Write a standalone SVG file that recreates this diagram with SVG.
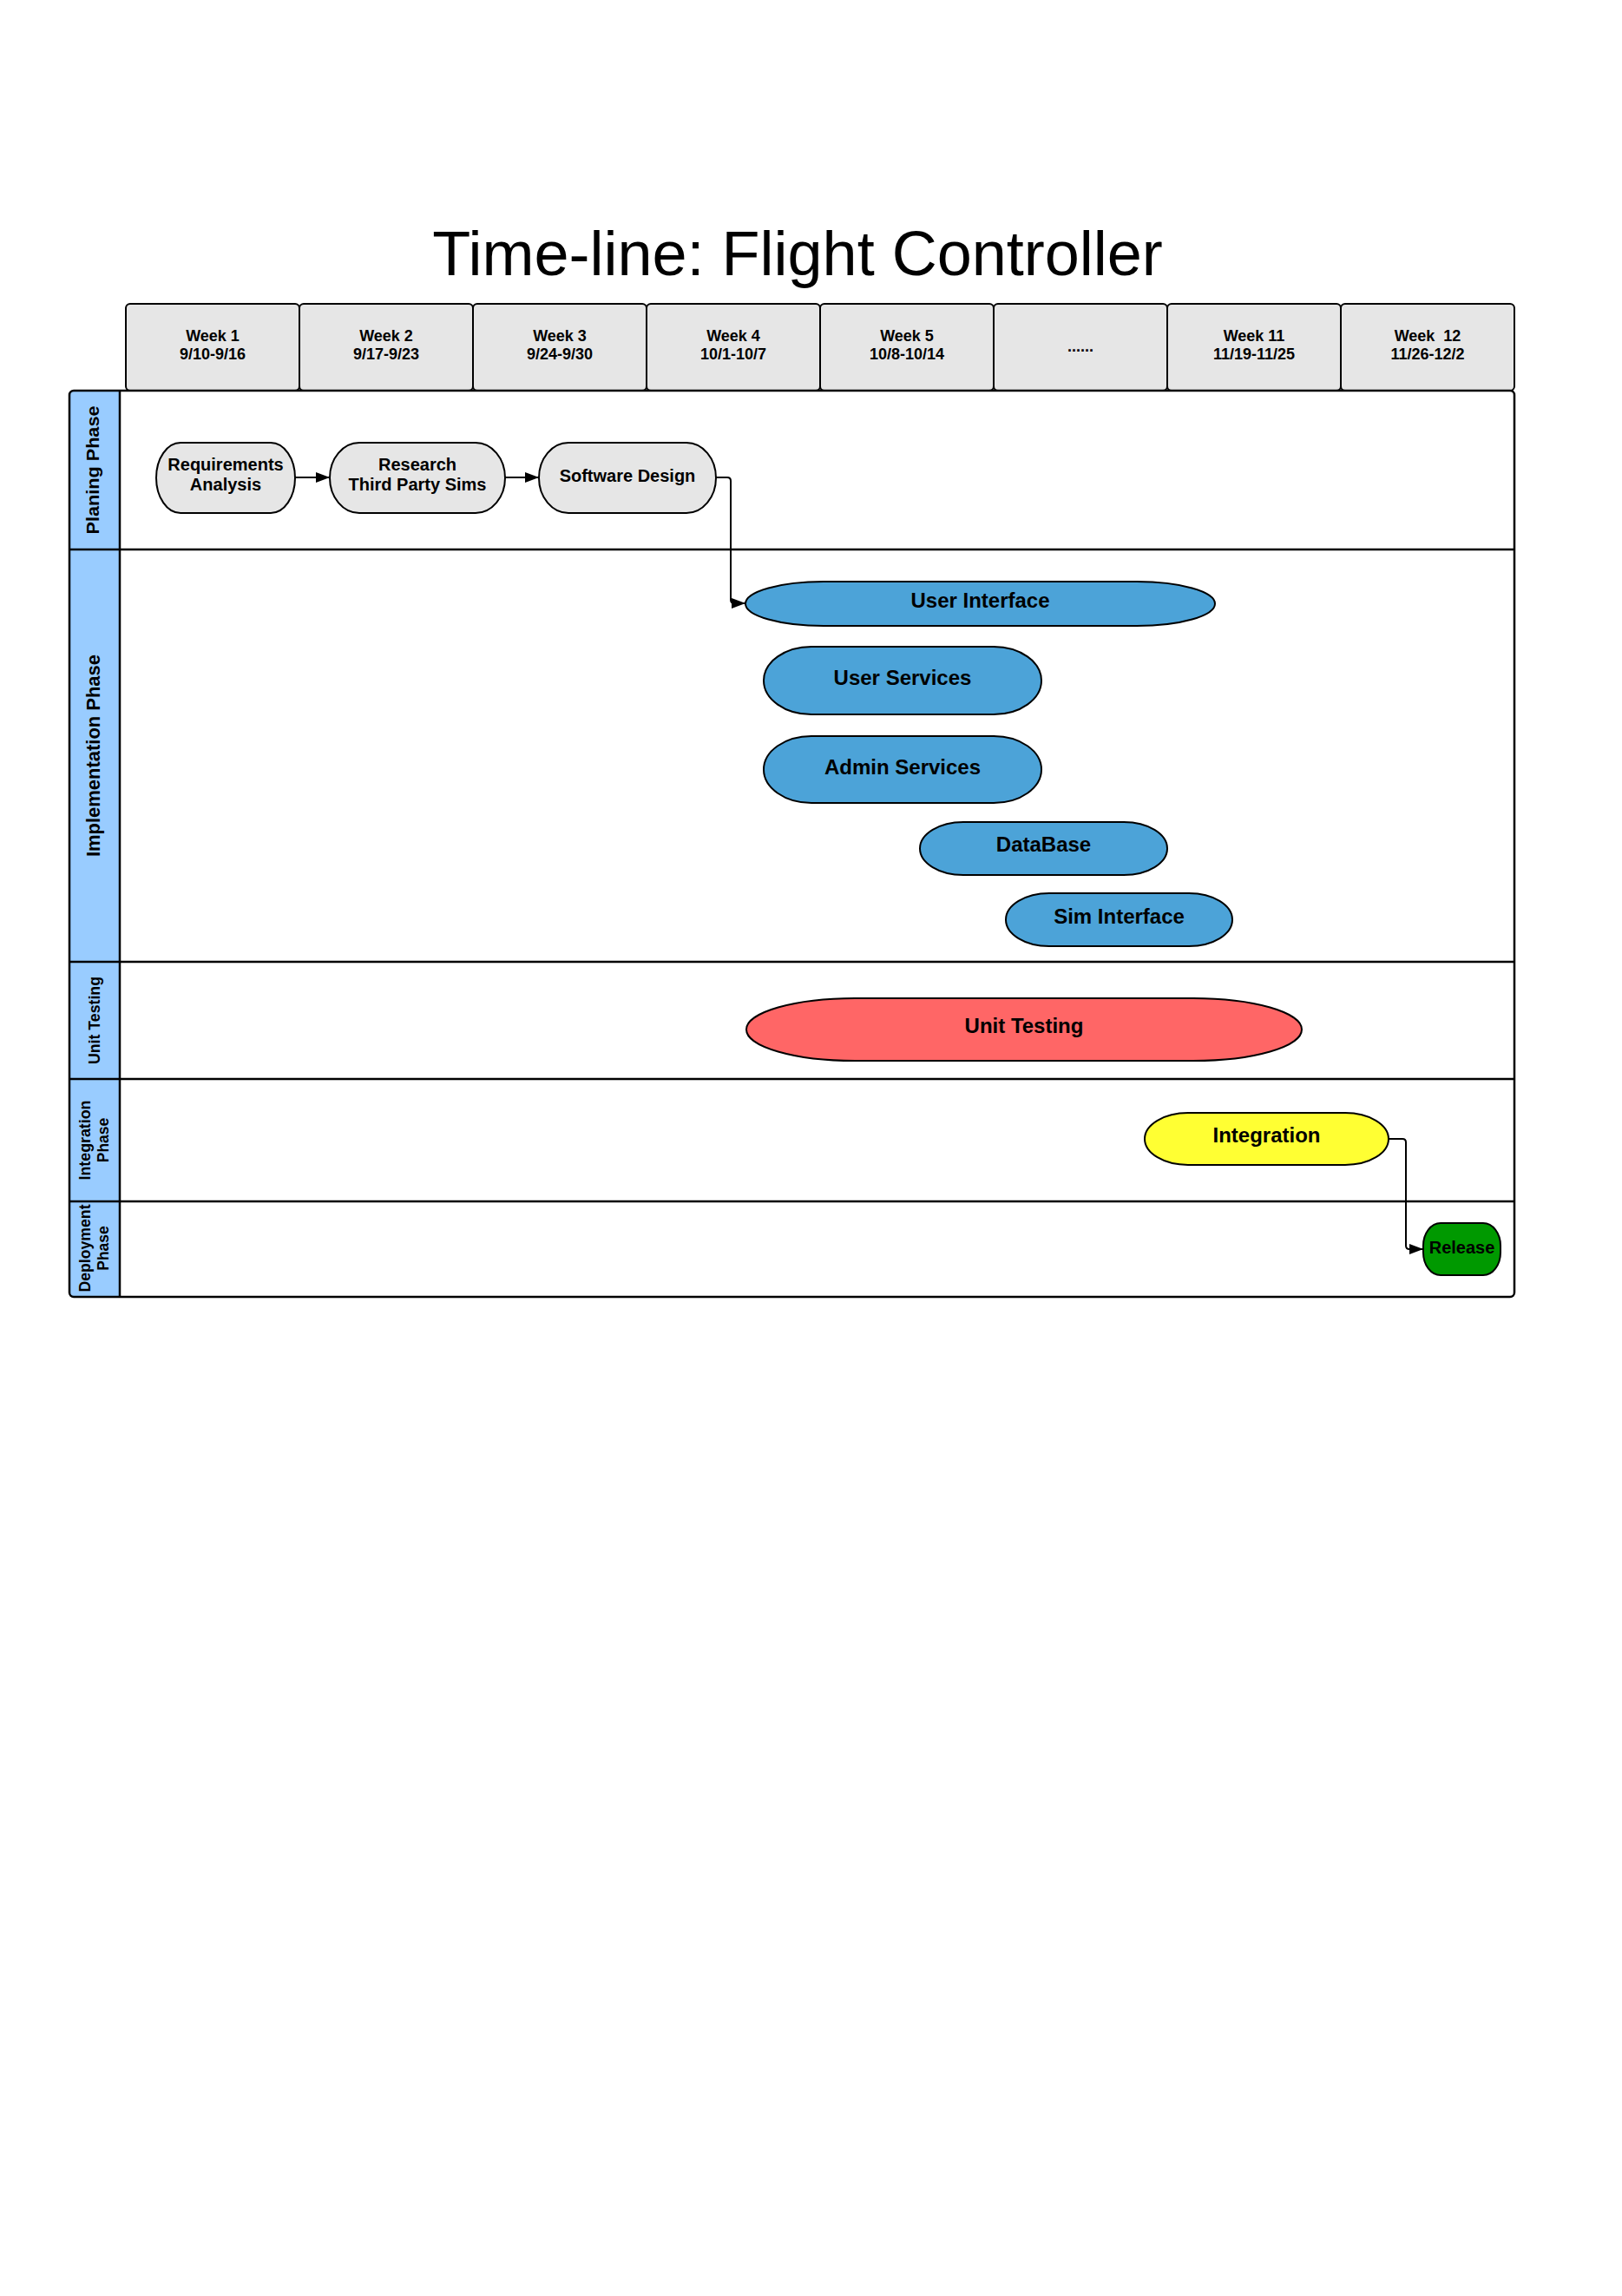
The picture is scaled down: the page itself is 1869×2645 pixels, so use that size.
<svg xmlns="http://www.w3.org/2000/svg" width="1869" height="2645" viewBox="0 0 1869 2645">
<style>
.hdr{fill:#e6e6e6;stroke:#000;stroke-width:2}
.ht{font-family:"Liberation Sans",Arial,sans-serif;font-weight:bold;font-size:18px;text-anchor:middle;fill:#000}
.lt{font-family:"Liberation Sans",Arial,sans-serif;font-weight:bold;text-anchor:middle;fill:#000}
.nt{font-family:"Liberation Sans",Arial,sans-serif;font-weight:bold;text-anchor:middle;fill:#000}
.gray{fill:#e6e6e6;stroke:#000;stroke-width:2}
.blue{fill:#4ca3d8;stroke:#000;stroke-width:2}
.red{fill:#ff6666;stroke:#000;stroke-width:2}
.yel{fill:#ffff33;stroke:#000;stroke-width:2}
.grn{fill:#009900;stroke:#000;stroke-width:2}
.lane{stroke:#000;stroke-width:2.5;fill:none}
.conn{stroke:#000;stroke-width:2;fill:none}
</style>
<defs>
<marker id="arr" markerUnits="userSpaceOnUse" markerWidth="16" markerHeight="12" refX="16" refY="6" orient="auto">
<path d="M0,0 L16,6 L0,12 Z" fill="#000"/>
</marker>
</defs>
<rect width="1869" height="2645" fill="#fff"/>
<text x="919" y="317" font-family="Liberation Sans,Arial,sans-serif" font-size="72" text-anchor="middle" fill="#000">Time-line: Flight Controller</text>

<g id="header">
<g id="week1"><rect class="hdr" x="145" y="350" width="200" height="100" rx="5"/><text class="ht" x="245" y="393">Week 1</text><text class="ht" x="245" y="414">9/10-9/16</text></g>
<g id="week2"><rect class="hdr" x="345" y="350" width="200" height="100" rx="5"/><text class="ht" x="445" y="393">Week 2</text><text class="ht" x="445" y="414">9/17-9/23</text></g>
<g id="week3"><rect class="hdr" x="545" y="350" width="200" height="100" rx="5"/><text class="ht" x="645" y="393">Week 3</text><text class="ht" x="645" y="414">9/24-9/30</text></g>
<g id="week4"><rect class="hdr" x="745" y="350" width="200" height="100" rx="5"/><text class="ht" x="845" y="393">Week 4</text><text class="ht" x="845" y="414">10/1-10/7</text></g>
<g id="week5"><rect class="hdr" x="945" y="350" width="200" height="100" rx="5"/><text class="ht" x="1045" y="393">Week 5</text><text class="ht" x="1045" y="414">10/8-10/14</text></g>
<g id="weekdots"><rect class="hdr" x="1145" y="350" width="200" height="100" rx="5"/><text class="ht" x="1245" y="405" font-weight="normal">......</text></g>
<g id="week11"><rect class="hdr" x="1345" y="350" width="200" height="100" rx="5"/><text class="ht" x="1445" y="393">Week 11</text><text class="ht" x="1445" y="414">11/19-11/25</text></g>
<g id="week12"><rect class="hdr" x="1545" y="350" width="200" height="100" rx="5"/><text class="ht" x="1645" y="393" xml:space="preserve">Week  12</text><text class="ht" x="1645" y="414">11/26-12/2</text></g>
</g>

<g id="pool">
<rect x="80" y="450" width="1665" height="1044" rx="5" fill="#fff"/>
<path d="M80,455 A5,5 0 0 1 85,450 H138 V1494 H85 A5,5 0 0 1 80,1489 Z" fill="#99ccff"/>
<rect class="lane" x="80" y="450" width="1665" height="1044" rx="5"/>
<line class="lane" x1="138" y1="450" x2="138" y2="1494"/>
<g id="lane-planning">
<line class="lane" x1="80" y1="633" x2="1745" y2="633"/>
<text class="lt" font-size="20" transform="translate(114,541.5) rotate(-90)" x="0" y="0" textLength="148" lengthAdjust="spacingAndGlyphs">Planing Phase</text>
</g>
<g id="lane-implementation">
<line class="lane" x1="80" y1="1108" x2="1745" y2="1108"/>
<text class="lt" font-size="22" transform="translate(115,870.5) rotate(-90)" x="0" y="0" textLength="233" lengthAdjust="spacingAndGlyphs">Implementation Phase</text>
</g>
<g id="lane-unittesting">
<line class="lane" x1="80" y1="1243" x2="1745" y2="1243"/>
<text class="lt" font-size="17.5" transform="translate(115,1175.5) rotate(-90)" x="0" y="0" textLength="101" lengthAdjust="spacingAndGlyphs">Unit Testing</text>
</g>
<g id="lane-integration">
<line class="lane" x1="80" y1="1384" x2="1745" y2="1384"/>
<text class="lt" font-size="17.5" transform="translate(104,1313.5) rotate(-90)" x="0" y="0" textLength="92" lengthAdjust="spacingAndGlyphs">Integration</text>
<text class="lt" font-size="17.5" transform="translate(125,1313.5) rotate(-90)" x="0" y="0">Phase</text>
</g>
<g id="lane-deployment">
<text class="lt" font-size="17.5" transform="translate(104,1438) rotate(-90)" x="0" y="0" textLength="101" lengthAdjust="spacingAndGlyphs">Deployment</text>
<text class="lt" font-size="17.5" transform="translate(125,1438) rotate(-90)" x="0" y="0">Phase</text>
</g>
</g>

<g id="connectors">
<path class="conn" d="M340,550 H380" marker-end="url(#arr)"/>
<path class="conn" d="M582,550 H621" marker-end="url(#arr)"/>
<path class="conn" d="M825,550 H838 Q842,550 842,554 V691 Q842,695 846,695 H859" marker-end="url(#arr)"/>
<path class="conn" d="M1600,1312 H1616 Q1620,1312 1620,1316 V1435 Q1620,1439 1624,1439 H1640" marker-end="url(#arr)"/>
</g>

<g id="node-requirements"><rect class="gray" x="180" y="510" width="160" height="81" rx="28" ry="40.5"/><text class="nt" font-size="20" x="260" y="542">Requirements</text><text class="nt" font-size="20" x="260" y="565">Analysis</text></g>
<g id="node-research"><rect class="gray" x="380" y="510" width="202" height="81" rx="34" ry="40.5"/><text class="nt" font-size="20" x="481" y="542">Research</text><text class="nt" font-size="20" x="481" y="565">Third Party Sims</text></g>
<g id="node-software-design"><rect class="gray" x="621" y="510" width="204" height="81" rx="34" ry="40.5"/><text class="nt" font-size="20" x="723" y="555">Software Design</text></g>
<g id="node-user-interface"><rect class="blue" x="859" y="670" width="541" height="51" rx="90" ry="25.5"/><text class="nt" font-size="24" x="1129.5" y="700">User Interface</text></g>
<g id="node-user-services"><rect class="blue" x="880" y="745" width="320" height="78" rx="55" ry="39"/><text class="nt" font-size="24" x="1040" y="789">User Services</text></g>
<g id="node-admin-services"><rect class="blue" x="880" y="848" width="320" height="77" rx="55" ry="38.5"/><text class="nt" font-size="24" x="1040" y="892">Admin Services</text></g>
<g id="node-database"><rect class="blue" x="1060" y="947" width="285" height="61" rx="50" ry="30.5"/><text class="nt" font-size="24" x="1202.5" y="981">DataBase</text></g>
<g id="node-sim-interface"><rect class="blue" x="1159" y="1029" width="261" height="61" rx="50" ry="30.5"/><text class="nt" font-size="24" x="1289.5" y="1064">Sim Interface</text></g>
<g id="node-unit-testing"><rect class="red" x="860" y="1150" width="640" height="72" rx="125" ry="36"/><text class="nt" font-size="24" x="1180" y="1190">Unit Testing</text></g>
<g id="node-integration"><rect class="yel" x="1319" y="1282" width="281" height="60" rx="50" ry="30"/><text class="nt" font-size="24" x="1459.5" y="1316">Integration</text></g>
<g id="node-release"><rect class="grn" x="1640" y="1409" width="89" height="60" rx="20" ry="26"/><text class="nt" font-size="20" x="1684.5" y="1444">Release</text></g>
</svg>
